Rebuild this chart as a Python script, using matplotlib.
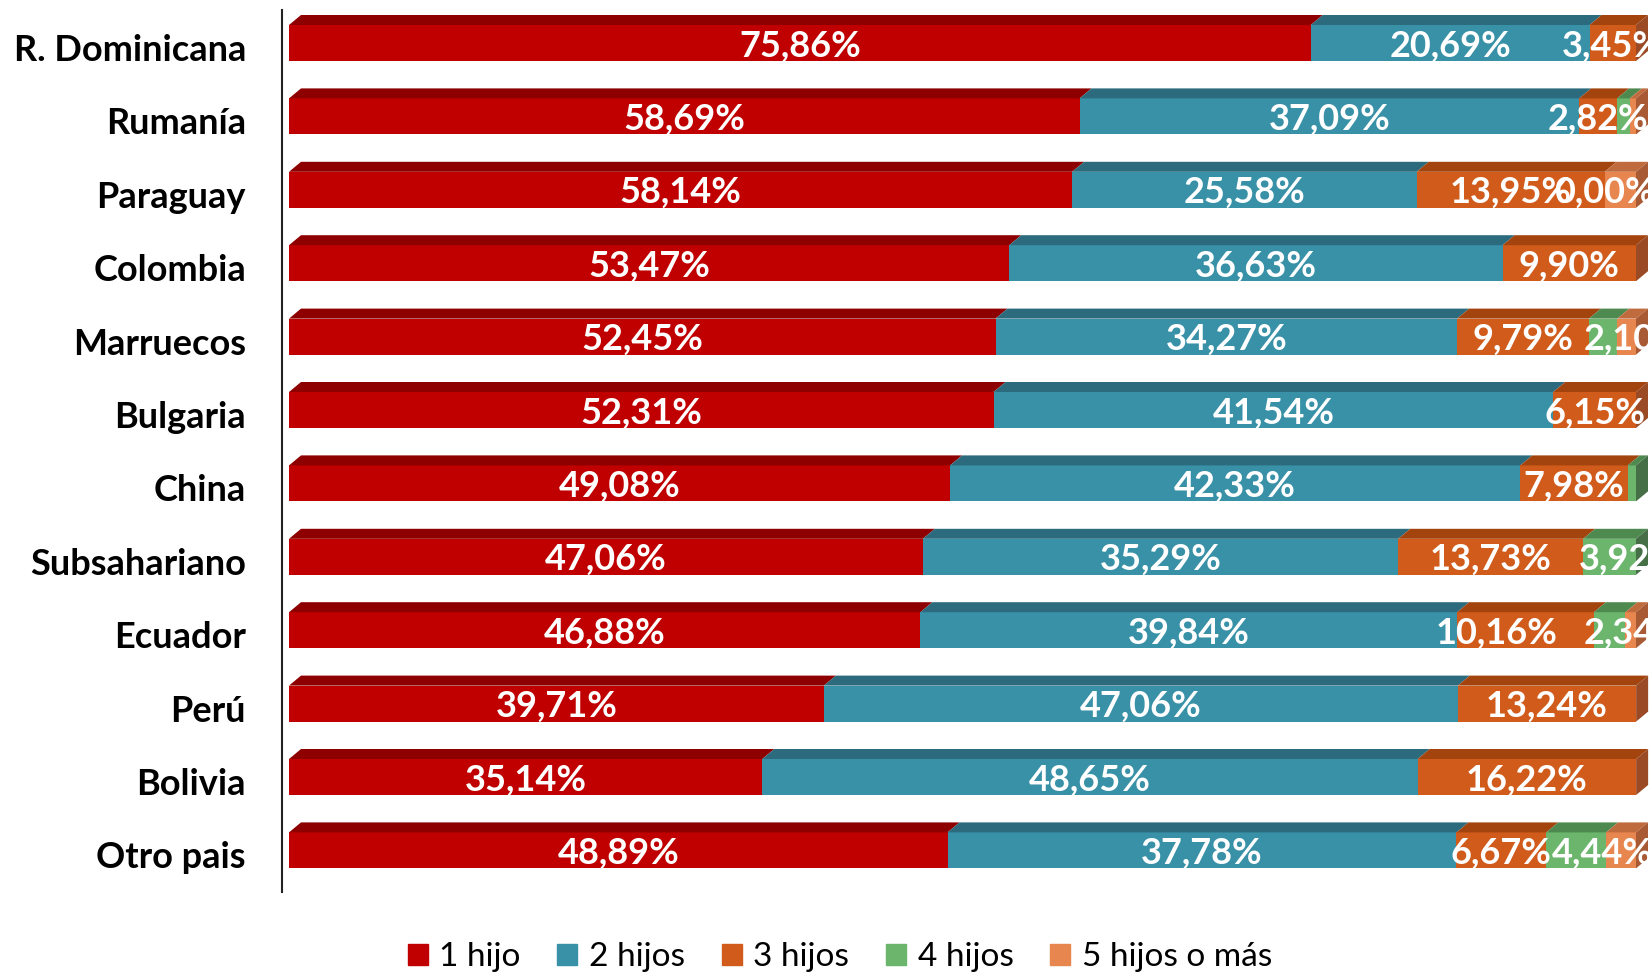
"""
Stacked 100% horizontal bars (fake 3D look) - number of children by origin.
"""

import matplotlib.pyplot as plt
from matplotlib.patches import Patch

plt.rcParams['font.family'] = ['Lato', 'DejaVu Sans']

paises = ['R. Dominicana', 'Rumanía', 'Paraguay', 'Colombia', 'Marruecos', 'Bulgaria',
          'China', 'Subsahariano', 'Ecuador', 'Perú', 'Bolivia', 'Otro pais']
series = ['1 hijo', '2 hijos', '3 hijos', '4 hijos', '5 hijos o más']

hijo1 = [75.86, 58.69, 58.14, 53.47, 52.45, 52.31, 49.08, 47.06, 46.88, 39.71, 35.14, 48.89]
hijos2 = [20.69, 37.09, 25.58, 36.63, 34.27, 41.54, 42.33, 35.29, 39.84, 47.06, 48.65, 37.78]
hijos3 = [3.45, 2.82, 13.95, 9.90, 9.79, 6.15, 7.98, 13.73, 10.16, 13.24, 16.22, 6.67]
hijos4 = [0.00, 0.94, 0.00, 0.00, 2.10, 0.00, 0.61, 3.92, 2.34, 0.00, 0.00, 4.44]
hijos5 = [0.00, 0.46, 2.33, 0.00, 1.39, 0.00, 0.00, 0.00, 0.78, 0.00, 0.00, 2.22]

# which data labels are visible in the original (per series)
mostrar = [
    [True] * 12,
    [True] * 12,
    [True] * 12,
    [False, False, True, False, True, False, False, True, True, False, False, True],
    [False] * 12,
]

# labels Excel pushed sideways to avoid collisions: (serie, fila) -> px
empuje = {(2, 8): -29, (3, 8): 24, (3, 11): 26, (3, 4): 31, (3, 7): 20}

front = ['#C00000', '#3891A7', '#D05B1B', '#6BB56C', '#E8864F']
top = ['#8E0000', '#2C6B7D', '#A3440F', '#4E8A50', '#C06B3E']
side = ['#7A0000', '#255B6A', '#9A4A24', '#466F48', '#A85A35']

valores = [hijo1, hijos2, hijos3, hijos4, hijos5]

fig = plt.figure(figsize=(16.5, 9.77), dpi=100)
# x: 0 -> 289px, 100 -> 1635px ; rows every 73.4px starting at 43px
px = 13.47
ax = fig.add_axes([282 / 1650, 0, 1 - 282 / 1650, 1])
ax.set_xlim(-7 / px, (1650 - 289) / px)
ax.set_ylim((977 - 43) / 73.4, -43 / 73.4)

h = 36 / 73.4      # front face height
dx = 12 / px       # depth, horizontal
dy = 10 / 73.4     # depth, vertical

for i in range(len(paises)):
    left = 0.0
    ultimo = None
    for k in range(len(series)):
        w = valores[k][i]
        if w > 0:
            ax.barh(i, w, left=left, height=h, color=front[k], linewidth=0)
            yt = i - h / 2
            ax.fill([left, left + w, left + w + dx, left + dx],
                    [yt, yt, yt - dy, yt - dy], color=top[k], linewidth=0)
            ultimo = (left + w, k)
        if mostrar[k][i]:
            xc = left + w / 2 + empuje.get((k, i), 0) / px
            ax.text(xc, i + 0.04, f'{w:.2f}%'.replace('.', ','),
                    ha='center', va='center', color='white', fontsize=26,
                    fontweight='bold', clip_on=False)
        left += w
    xr, k = ultimo
    yt, yb = i - h / 2, i + h / 2
    ax.fill([xr, xr + dx, xr + dx, xr], [yt, yt - dy, yb - dy, yb],
            color=side[k], linewidth=0)

ax.set_yticks([i + 0.06 for i in range(len(paises))])
ax.set_yticklabels(paises, fontsize=26, fontweight='bold')
ax.tick_params(axis='y', length=0, pad=26)
ax.set_xticks([])
for s in ['top', 'right', 'bottom']:
    ax.spines[s].set_visible(False)
ax.spines['left'].set_bounds(-33 / 73.4, (892 - 43) / 73.4)
ax.spines['left'].set_linewidth(1.5)
ax.spines['left'].set_color('#222222')

handles = [Patch(color=c, label=s) for c, s in zip(front, series)]
fig.legend(handles=handles, loc='center', bbox_to_anchor=(0.509, 0.02), ncol=5,
           frameon=False, fontsize=24, handlelength=0.6, handleheight=0.6,
           handletextpad=0.35, columnspacing=1.1)

fig.savefig('out.png', dpi=100)
